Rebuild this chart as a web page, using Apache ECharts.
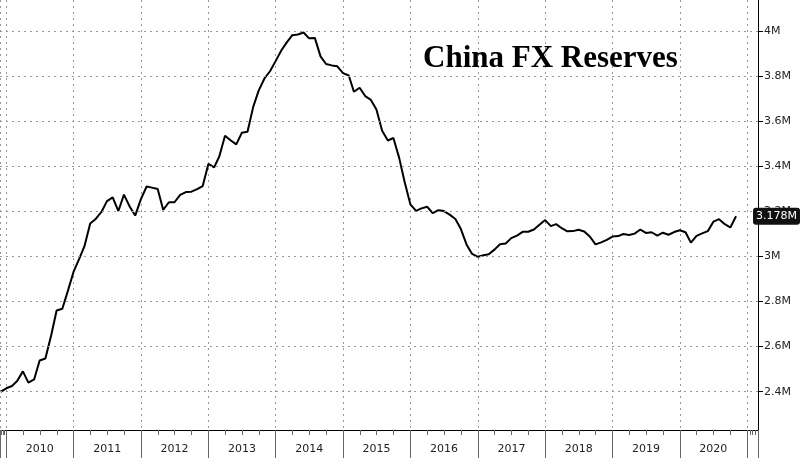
<!DOCTYPE html>
<html><head><meta charset="utf-8">
<script src="https://cdn.jsdelivr.net/npm/echarts@6/dist/echarts.min.js"></script>
<style>html,body{margin:0;padding:0;background:#fff}#c{width:800px;height:458px}</style>
</head><body><div id="c"></div>
<script>
const startMonth = '2009-12';
const reserves = [
2.399,
2.415,2.425,2.447,2.490,2.440,2.454,2.538,2.547,2.648,2.760,2.768,2.847,
2.932,2.990,3.045,3.146,3.166,3.197,3.245,3.262,3.201,3.274,3.221,3.181,
3.254,3.310,3.305,3.299,3.206,3.240,3.240,3.273,3.285,3.287,3.298,3.312,
3.410,3.395,3.443,3.535,3.515,3.497,3.548,3.553,3.663,3.736,3.789,3.821,
3.867,3.914,3.948,3.981,3.984,3.993,3.967,3.969,3.887,3.853,3.847,3.843,
3.813,3.802,3.730,3.748,3.711,3.694,3.651,3.557,3.514,3.525,3.438,3.330,
3.231,3.202,3.213,3.220,3.192,3.205,3.201,3.185,3.166,3.121,3.052,3.011,
2.998,3.005,3.009,3.030,3.054,3.057,3.081,3.092,3.109,3.109,3.119,3.140,
3.161,3.134,3.143,3.125,3.111,3.112,3.118,3.110,3.087,3.053,3.062,3.073,
3.088,3.090,3.099,3.095,3.101,3.119,3.104,3.107,3.092,3.105,3.096,3.108,
3.116,3.107,3.061,3.091,3.102,3.112,3.154,3.165,3.143,3.128,3.178
];
const yTicks = [2.4,2.6,2.8,3.0,3.2,3.4,3.6,3.8,4.0];
const yMinor = [2.3,2.5,2.7,2.9,3.1,3.3,3.5,3.7,3.9,4.1];
const lastValue = 3.178;

const DAY = 864e5;
const t0 = Date.UTC(2009,11,1);
const data = reserves.map((v,i)=>[Date.UTC(2009,11+i,1), v]);
const xMin = Date.UTC(2009,10,28), xMax = Date.UTC(2021,1,28);
const shift = 182*DAY;
const fmt = v => (Math.round(v*10)/10 === Math.round(v) ? Math.round(v) : v.toFixed(1)) + 'M';

const chart = echarts.init(document.getElementById('c'));
chart.setOption({
  animation:false,
  title:{text:'China FX Reserves', left:418, top:38,
    textStyle:{fontFamily:'Liberation Serif', fontWeight:'bold', fontSize:31, color:'#000'}},
  grid:{left:0, right:42, top:0, bottom:28, show:false},
  xAxis:[{
    type:'time', min:xMin, max:xMax, position:'bottom',
    minInterval:365*DAY, maxInterval:366*DAY,
    axisLine:{show:true, lineStyle:{color:'#000', width:1}},
    axisTick:{show:true, length:28, lineStyle:{color:'#666'}},
    minorTick:{show:true, splitNumber:4, length:5, lineStyle:{color:'#666'}},
    axisLabel:{show:false},
    splitLine:{show:true, lineStyle:{color:'#999', type:[2,4], width:1}}
  },{
    type:'time', min:xMin-shift, max:xMax-shift, position:'bottom',
    minInterval:365*DAY, maxInterval:366*DAY,
    axisLine:{show:false}, axisTick:{show:false}, splitLine:{show:false},
    axisLabel:{show:true, margin:14, color:'#222', fontFamily:'DejaVu Sans', fontSize:11,
      formatter:v=>String(new Date(v).getUTCFullYear())}
  }],
  yAxis:{
    type:'value', position:'right', min:2.23, max:4.137,
    axisLine:{show:true, lineStyle:{color:'#000'}},
    axisTick:{show:true, length:5, customValues:yTicks, lineStyle:{color:'#000'}},
    minorTick:{show:false},
    axisLabel:{show:true, customValues:yTicks, formatter:fmt, color:'#222',
      fontFamily:'DejaVu Sans', fontSize:11, margin:6},
    splitLine:{show:false},
    axisPointer:{show:true, value:lastValue, status:'show', triggerTooltip:false,
      lineStyle:{opacity:0},
      label:{show:true, backgroundColor:'#111', color:'#fff', padding:[3,3],
        fontFamily:'DejaVu Sans', fontSize:11, formatter:p=>p.value.toFixed(3)+'M'}}
  },
  series:[{
    type:'line', data:data, showSymbol:false, symbol:'none',
    lineStyle:{color:'#000', width:2},
    markLine:{silent:true, symbol:'none', label:{show:false},
      lineStyle:{color:'#999', type:[2,4], width:1},
      data:yTicks.map(v=>({yAxis:v}))},
    z:3
  }]
});
</script></body></html>
